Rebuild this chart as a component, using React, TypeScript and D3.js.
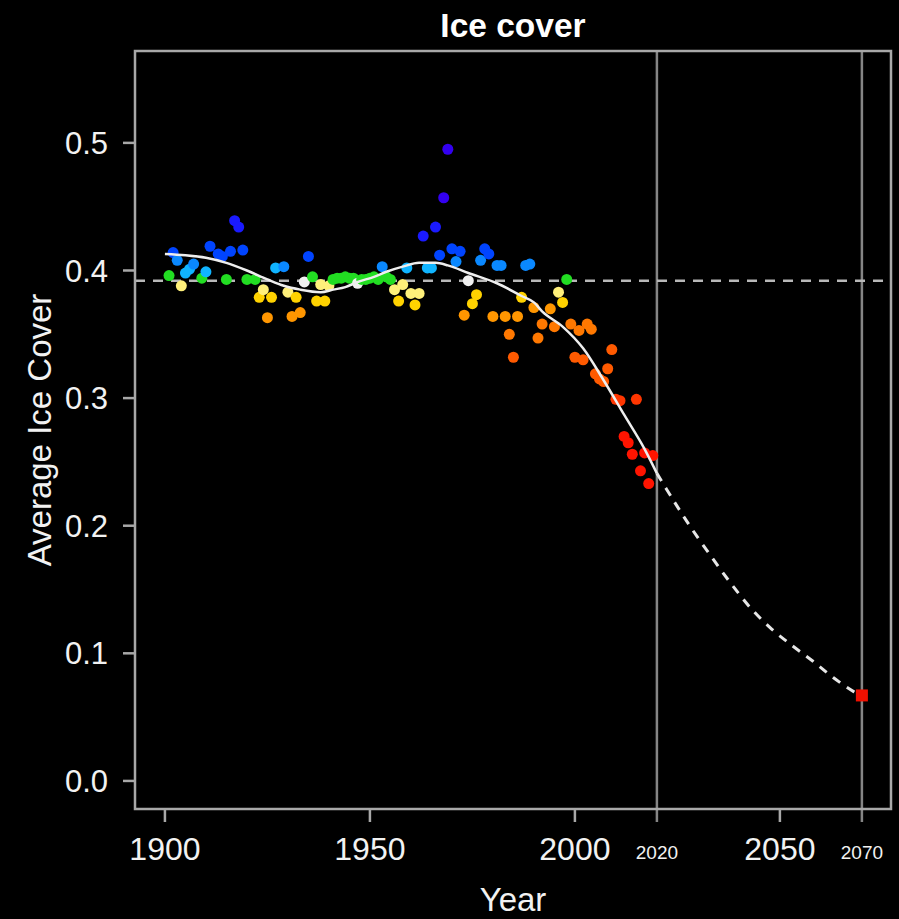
import React from "react";
import * as d3 from "d3";

// ---- data ----
const years = [
  1901, 1902, 1903, 1904, 1905, 1906, 1907, 1909, 1910, 1911, 1913, 1914, 1915, 1916, 1917, 1918, 1919, 1920,
  1922, 1923, 1924, 1925, 1926, 1927, 1929, 1930, 1931, 1932, 1933, 1934, 1935, 1936, 1937, 1938, 1939, 1940,
  1941, 1942, 1943, 1944, 1945, 1946, 1947, 1948, 1949, 1950, 1951, 1952, 1953, 1954, 1955, 1956, 1957, 1958,
  1959, 1960, 1961, 1962, 1963, 1964, 1965, 1966, 1967, 1968, 1969, 1970, 1971, 1972, 1973, 1974, 1975, 1976,
  1977, 1978, 1979, 1980, 1981, 1982, 1983, 1984, 1985, 1986, 1987, 1988, 1989, 1990, 1991, 1992, 1994, 1995,
  1996, 1997, 1998, 1999, 2000, 2001, 2002, 2003, 2004, 2005, 2006, 2007, 2008, 2009, 2010, 2011, 2012, 2013,
  2014, 2015, 2016, 2017, 2018, 2019,
];
const iceCover = [
  0.396, 0.414, 0.408, 0.388, 0.398, 0.401, 0.405, 0.394, 0.399, 0.419, 0.413, 0.411, 0.393, 0.415, 0.439, 0.434, 0.416, 0.393,
  0.393, 0.379, 0.385, 0.363, 0.379, 0.402, 0.403, 0.383, 0.364, 0.379, 0.367, 0.391, 0.411, 0.395, 0.376, 0.389, 0.376, 0.388,
  0.393, 0.394, 0.394, 0.395, 0.394, 0.394, 0.390, 0.393, 0.393, 0.394, 0.395, 0.393, 0.403, 0.395, 0.393, 0.385, 0.376, 0.389,
  0.402, 0.382, 0.373, 0.382, 0.427, 0.402, 0.402, 0.434, 0.412, 0.457, 0.495, 0.417, 0.407, 0.415, 0.365, 0.392, 0.374, 0.381,
  0.408, 0.417, 0.413, 0.364, 0.404, 0.404, 0.364, 0.350, 0.332, 0.364, 0.379, 0.404, 0.405, 0.371, 0.347, 0.358, 0.370, 0.356,
  0.383, 0.375, 0.393, 0.358, 0.332, 0.353, 0.330, 0.358, 0.354, 0.319, 0.315, 0.313, 0.323, 0.338, 0.299, 0.298, 0.270, 0.265,
  0.256, 0.299, 0.243, 0.257, 0.233, 0.255,
];

// smoothed trend (solid)
const trendYears = [1900, 1905, 1910, 1915, 1920, 1925, 1929, 1933, 1938, 1941, 1944, 1947, 1951, 1954, 1958, 1962, 1966, 1969, 1974, 1981, 1987, 1990, 1992, 1997, 2002, 2007, 2012, 2017, 2020];
const trendValues = [0.413, 0.412, 0.41, 0.406, 0.4, 0.393, 0.388, 0.385, 0.383, 0.385, 0.387, 0.391, 0.395, 0.399, 0.403, 0.406, 0.406, 0.404, 0.398, 0.39, 0.38, 0.375, 0.368, 0.356, 0.339, 0.314, 0.287, 0.26, 0.241];

// projection (dashed)
const projYears = [2020, 2024, 2028, 2033, 2038, 2043, 2048, 2053, 2058, 2063, 2068, 2070];
const projValues = [0.241, 0.22, 0.2, 0.177, 0.155, 0.135, 0.119, 0.106, 0.094, 0.081, 0.07, 0.067];

const targetYear = 2070;
const targetValue = 0.067;
const meanValue = 0.392;

const yTicks = [0.0, 0.1, 0.2, 0.3, 0.4, 0.5];
const xTicksMajor = [1900, 1950, 2000, 2050];
const xTicksMinor = [2020, 2070];
const markerYears = [2020, 2070];

const colorBreaks = [0.28, 0.31, 0.34, 0.36, 0.372, 0.382, 0.39, 0.3925, 0.397, 0.403, 0.41, 0.42, 0.44];
const colorList = [
  "#ff1400", "#ff3600", "#ff5a00", "#ff7800", "#ff9600", "#ffd200", "#fff07a", "#f0f0f0",
  "#22dd22", "#10b4ff", "#0a88ff", "#0044ff", "#1a1aff", "#3300f0",
];

const W = 899;
const H = 919;
const L = 135, R = 891, T = 51, B = 809;
const FONT = "'Liberation Sans', Arial, Helvetica, sans-serif";

export default function App() {
  const x = d3.scaleLinear().domain([1892.7, 2077.1]).range([L, R]);
  const y = d3.scaleLinear().domain([-0.022, 0.572]).range([B, T]);
  const color = d3.scaleThreshold<number, string>().domain(colorBreaks).range(colorList);

  const trendLine = d3
    .line<number>()
    .x((_, i) => x(trendYears[i]))
    .y((d) => y(d))
    .curve(d3.curveMonotoneX);
  const projLine = d3
    .line<number>()
    .x((_, i) => x(projYears[i]))
    .y((d) => y(d))
    .curve(d3.curveCatmullRom);

  const grey = "#a8a8a8";

  return (
    <div style={{ position: "absolute", left: 0, top: 0, width: W, height: H, background: "#000" }}>
      <svg width={W} height={H} style={{ display: "block" }}>
        <rect x={0} y={0} width={W} height={H} fill="#000" />

        {/* reference lines */}
        {markerYears.map((yr) => (
          <line key={yr} x1={x(yr)} x2={x(yr)} y1={T} y2={B + 13} stroke="#858585" strokeWidth={2.5} />
        ))}
        <line x1={L} x2={R} y1={y(meanValue)} y2={y(meanValue)} stroke="#b8b8b8" strokeWidth={2.5} strokeDasharray="10 8" />

        {/* points */}
        {years.map((yr, i) => (
          <circle key={yr} cx={x(yr)} cy={y(iceCover[i])} r={5.5} fill={color(iceCover[i])} />
        ))}

        {/* trend + projection */}
        <path d={trendLine(trendValues) || ""} fill="none" stroke="#eeeeee" strokeWidth={2.5} />
        <path d={projLine(projValues) || ""} fill="none" stroke="#e6e6e6" strokeWidth={3} strokeDasharray="9 8" />
        <rect x={x(targetYear) - 6} y={y(targetValue) - 6} width={12} height={12} fill="#f01000" />

        {/* box */}
        <rect x={L} y={T} width={R - L} height={B - T} fill="none" stroke={grey} strokeWidth={2.5} />

        {/* y axis */}
        {yTicks.map((t) => (
          <g key={t}>
            <line x1={L - 12} x2={L} y1={y(t)} y2={y(t)} stroke={grey} strokeWidth={2.5} />
            <text x={108} y={y(t)} dy="0.36em" textAnchor="end" fill="#f2f2f2" fontFamily={FONT} fontSize={31}>
              {t.toFixed(1)}
            </text>
          </g>
        ))}

        {/* x axis */}
        {xTicksMajor.map((t) => (
          <g key={t}>
            <line x1={x(t)} x2={x(t)} y1={B} y2={B + 13} stroke={grey} strokeWidth={2.5} />
            <text x={x(t)} y={860} textAnchor="middle" fill="#f2f2f2" fontFamily={FONT} fontSize={32}>
              {t}
            </text>
          </g>
        ))}
        {xTicksMinor.map((t) => (
          <text key={t} x={x(t)} y={859} textAnchor="middle" fill="#f2f2f2" fontFamily={FONT} fontSize={19}>
            {t}
          </text>
        ))}

        {/* titles */}
        <text x={(L + R) / 2} y={37} textAnchor="middle" fill="#ffffff" fontFamily={FONT} fontSize={33.5} fontWeight="bold">
          Ice cover
        </text>
        <text x={(L + R) / 2} y={911} textAnchor="middle" fill="#f2f2f2" fontFamily={FONT} fontSize={33}>
          Year
        </text>
        <text
          transform={`translate(51, ${(T + B) / 2}) rotate(-90)`}
          textAnchor="middle"
          fill="#f2f2f2"
          fontFamily={FONT}
          fontSize={33}
        >
          Average Ice Cover
        </text>
      </svg>
    </div>
  );
}
